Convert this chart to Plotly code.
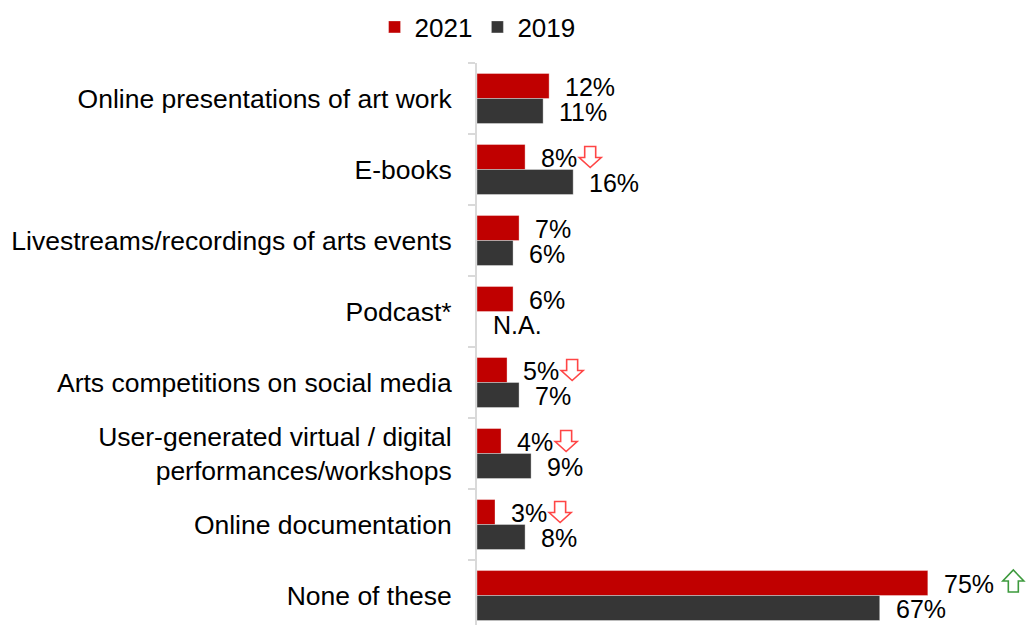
import plotly.graph_objects as go

# Survey data: share of respondents per online arts activity
categories = [
    "Online presentations of art work",
    "E-books",
    "Livestreams/recordings of arts events",
    "Podcast*",
    "Arts competitions on social media",
    "User-generated virtual / digital<br>performances/workshops",
    "Online documentation",
    "None of these",
]
values_2021 = [12, 8, 7, 6, 5, 4, 3, 75]
values_2019 = [11, 16, 6, None, 7, 9, 8, 67]
# change markers shown next to the 2021 labels: "down", "up" or ""
trend_2021 = ["", "down", "", "", "down", "down", "down", "up"]

RED = "#C00000"
DARK = "#363636"
FONT = "Liberation Sans, Arial, sans-serif"
LABEL_SIZE = 25
LABEL_PAD = 14  # px between bar end and its value label

# Arial/Liberation advance widths (em) used to place the trend arrows after the labels
GLYPH_EM = {"%": 0.889, " ": 0.278, ".": 0.278}


def text_px(s, size=LABEL_SIZE):
    return sum(GLYPH_EM.get(ch, 0.556) for ch in s) * size


def arrow_path(x0, up):
    """Hollow block arrow, in pixels relative to the anchor (y positive upward)."""
    if up:
        pts = [(5.5, 3.5), (15.5, 3.5), (15.5, 14.5), (21, 14.5),
               (10.5, 25.5), (0, 14.5), (5.5, 14.5)]
    else:
        pts = [(5.5, 23), (16.5, 23), (16.5, 12), (22, 12),
               (11, 2), (0, 12), (5.5, 12)]
    return "M" + " L".join(f"{x0 + x:.1f},{y:.1f}" for x, y in pts) + " Z"


fig = go.Figure()
fig.add_trace(go.Bar(
    name="2021", y=categories, x=values_2021, orientation="h",
    marker=dict(color=RED, line=dict(color="rgba(255,255,255,0.35)", width=1)),
))
fig.add_trace(go.Bar(
    name="2019", y=categories, x=values_2019, orientation="h",
    marker=dict(color=DARK, line=dict(color="rgba(255,255,255,0.35)", width=1)),
))

# value labels just past the end of each bar, plus trend arrows
for i, (cat, v21, v19, tr) in enumerate(zip(categories, values_2021, values_2019, trend_2021)):
    lab21 = f"{v21}%" + (" " if tr == "up" else "")
    fig.add_annotation(
        x=v21, y=cat, xref="x", yref="y", text=lab21,
        showarrow=False, xanchor="left", yanchor="middle", xshift=LABEL_PAD, yshift=12,
        font=dict(family=FONT, size=LABEL_SIZE, color="black"),
    )
    fig.add_annotation(
        x=v19 if v19 is not None else 0, y=cat, xref="x", yref="y",
        text=f"{v19}%" if v19 is not None else "N.A.",
        showarrow=False, xanchor="left", yanchor="middle", xshift=LABEL_PAD, yshift=-13,
        font=dict(family=FONT, size=LABEL_SIZE, color="black"),
    )
    if tr:
        up = tr == "up"
        fig.add_shape(
            type="path", xref="x", yref="y",
            xsizemode="pixel", ysizemode="pixel", xanchor=v21, yanchor=i,
            path=arrow_path(LABEL_PAD + text_px(lab21) + 4, up),
            line=dict(color="#3d9a3d" if up else "#ff4545", width=1.6),
            fillcolor="rgba(0,0,0,0)",
        )

fig.update_layout(
    width=1027, height=625,
    margin=dict(l=477, r=0, t=63, b=0),
    paper_bgcolor="white", plot_bgcolor="white",
    barmode="group", bargap=0.296, bargroupgap=0,
    font=dict(family=FONT, size=26, color="black"),
    legend=dict(
        orientation="h", xref="container", yref="container",
        x=0.465, y=1 - 27 / 625, xanchor="center", yanchor="middle",
        font=dict(family=FONT, size=26, color="black"),
        itemwidth=30, traceorder="normal",
    ),
    showlegend=True,
)
fig.update_xaxes(visible=False, range=[0, 91.5])
fig.update_yaxes(
    type="category", range=[7.415, -0.5],
    showline=True, linecolor="#d9d9d9", linewidth=2,
    ticks="outside", tickson="boundaries", ticklen=7, tickcolor="#d9d9d9", tickwidth=1.5,
    ticklabelstandoff=18, showgrid=False, zeroline=False,
    tickfont=dict(family=FONT, size=26.5, color="black"),
)

fig.write_html("out.html")
